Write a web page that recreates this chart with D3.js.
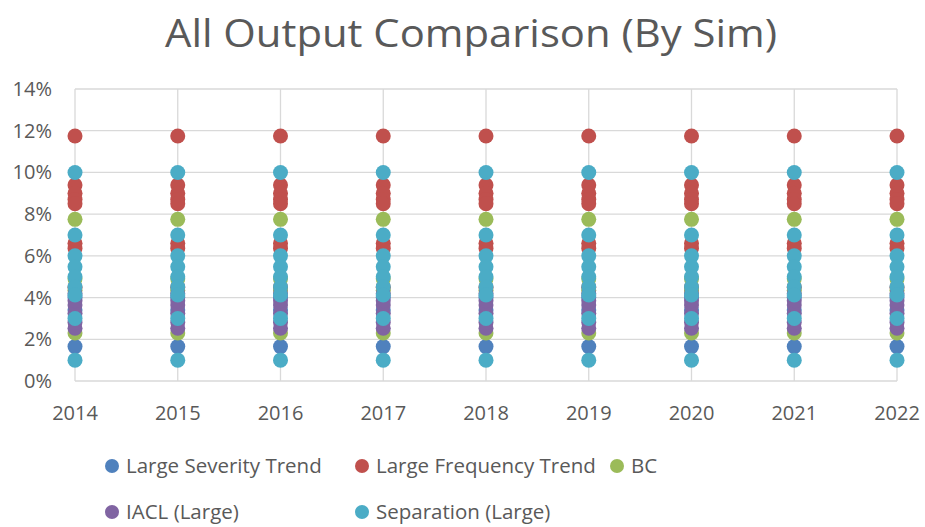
<!DOCTYPE html>
<html>
<head>
<meta charset="utf-8">
<script src="https://cdn.jsdelivr.net/npm/d3@7"></script>
<style>
  body { margin: 0; background: #fff; }
  text { font-family: "Open Sans", "Noto Sans", sans-serif; fill: #595959; }
</style>
</head>
<body>
<div id="chart"></div>
<script>
const years = [2014, 2015, 2016, 2017, 2018, 2019, 2020, 2021, 2022];
const yTicks = [0, 0.02, 0.04, 0.06, 0.08, 0.10, 0.12, 0.14];

// values per sim (same for every year)
const largeSeverity = [0.0165, 0.034, 0.040];
const largeFrequency = [0.1175, 0.094, 0.090, 0.087, 0.085, 0.066, 0.0635, 0.045];
const bc = [0.0775, 0.049, 0.0435, 0.023];
const iacl = [0.0253, 0.028, 0.0325, 0.0364, 0.0385, 0.042];
const separation = [0.10, 0.070, 0.060, 0.0548, 0.050, 0.0452, 0.0412, 0.030, 0.010];

const seriesNames = ["Large Severity Trend", "Large Frequency Trend", "BC", "IACL (Large)", "Separation (Large)"];
const seriesValues = [largeSeverity, largeFrequency, bc, iacl, separation];
const colors = ["#4F81BD", "#C0504D", "#9BBB59", "#8064A2", "#4BACC6"];

const width = 925, height = 527;
const plotLeft = 75, plotRight = 897, plotTop = 89, plotBottom = 381;

const svg = d3.select("#chart").append("svg")
    .attr("width", width)
    .attr("height", height);

const x = d3.scalePoint().domain(years).range([plotLeft, plotRight]);
const y = d3.scaleLinear().domain([0, 0.14]).range([plotBottom, plotTop]);

// title
svg.append("text")
    .attr("x", 471)
    .attr("y", 47)
    .attr("text-anchor", "middle")
    .attr("font-size", 38)
    .attr("textLength", 612)
    .attr("lengthAdjust", "spacingAndGlyphs")
    .text("All Output Comparison (By Sim)");

// horizontal gridlines
svg.append("g").selectAll("line")
    .data(yTicks.filter(d => d > 0))
    .enter().append("line")
    .attr("x1", plotLeft).attr("x2", plotRight)
    .attr("y1", d => y(d)).attr("y2", d => y(d))
    .attr("stroke", "#D9D9D9").attr("stroke-width", 1.3);

// vertical gridlines
svg.append("g").selectAll("line")
    .data(years)
    .enter().append("line")
    .attr("x1", d => x(d)).attr("x2", d => x(d))
    .attr("y1", plotTop).attr("y2", plotBottom)
    .attr("stroke", "#D9D9D9").attr("stroke-width", 1.3);

// bottom axis line
svg.append("line")
    .attr("x1", plotLeft).attr("x2", plotRight)
    .attr("y1", plotBottom).attr("y2", plotBottom)
    .attr("stroke", "#D9D9D9").attr("stroke-width", 1.3);

// y tick labels
svg.append("g").selectAll("text")
    .data(yTicks)
    .enter().append("text")
    .attr("x", 52)
    .attr("y", d => y(d) + 7)
    .attr("text-anchor", "end")
    .attr("font-size", 20)
    .text(d => d3.format(".0%")(d));

// x tick labels
svg.append("g").selectAll("text")
    .data(years)
    .enter().append("text")
    .attr("x", d => x(d))
    .attr("y", 420)
    .attr("text-anchor", "middle")
    .attr("font-size", 20)
    .text(d => d);

// dots
seriesValues.forEach((vals, i) => {
    const pts = [];
    years.forEach(yr => vals.forEach(v => pts.push({ yr, v })));
    svg.append("g").selectAll("circle")
        .data(pts)
        .enter().append("circle")
        .attr("cx", d => x(d.yr))
        .attr("cy", d => y(d.v))
        .attr("r", 7.5)
        .attr("fill", colors[i]);
});

// legend
const legendPos = [[112, 466], [362, 466], [617, 466], [112, 512], [362, 512]];
const legend = svg.append("g").selectAll("g")
    .data(seriesNames)
    .enter().append("g")
    .attr("transform", (d, i) => `translate(${legendPos[i][0]},${legendPos[i][1]})`);

legend.append("circle")
    .attr("r", 7)
    .attr("fill", (d, i) => colors[i]);

legend.append("text")
    .attr("x", 14)
    .attr("y", 7)
    .attr("font-size", 20.5)
    .text(d => d);
</script>
</body>
</html>
